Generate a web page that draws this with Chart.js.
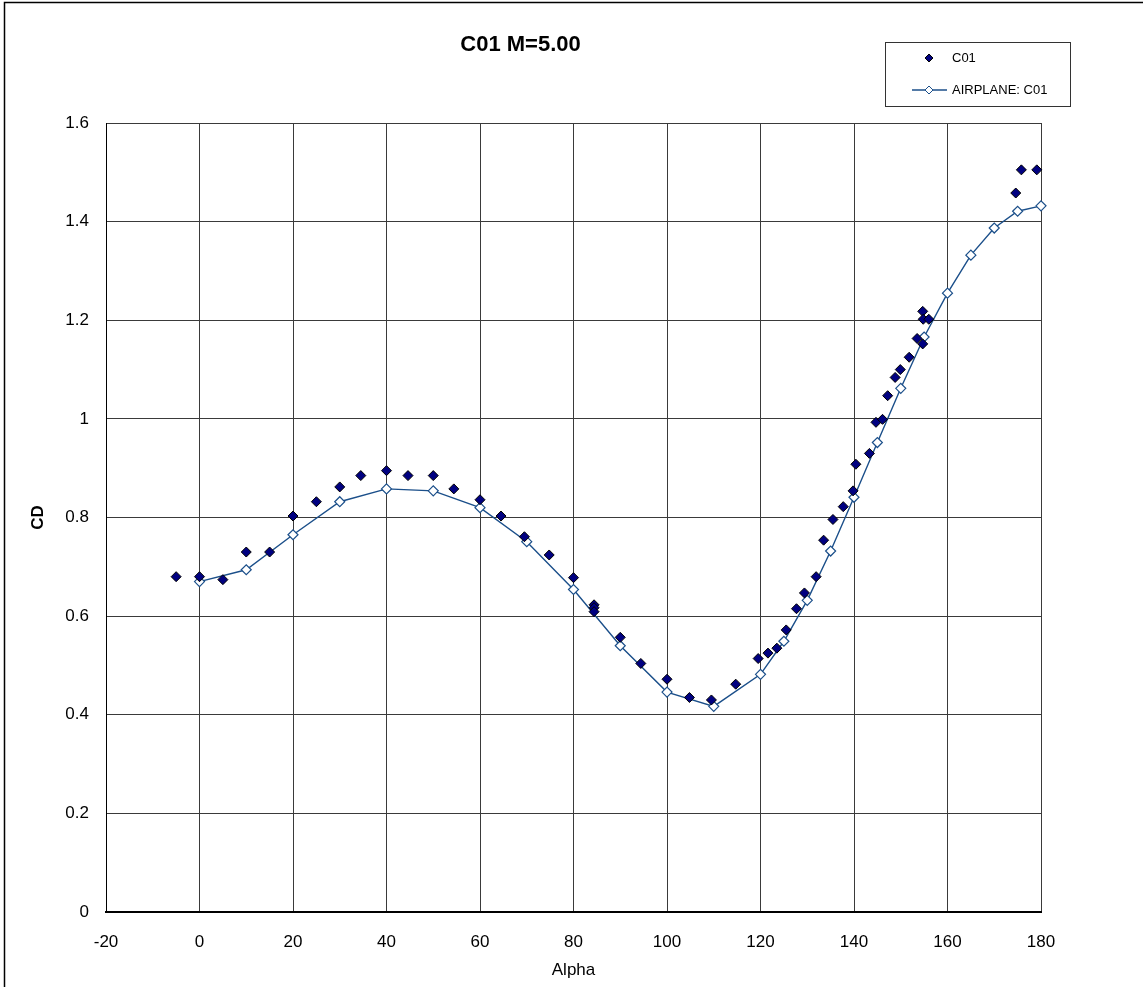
<!DOCTYPE html>
<html>
<head>
<meta charset="utf-8">
<title>C01 M=5.00</title>
<script src="https://cdn.jsdelivr.net/npm/chart.js@4.4.1/dist/chart.umd.min.js"></script>
<style>
  html, body { margin: 0; padding: 0; background: #fff; }
  #wrap { position: absolute; left: 0; top: 0; width: 1143px; height: 987px; }
</style>
</head>
<body>
<div id="wrap"><canvas id="cdChart"></canvas></div>
<script>
// measured C01 points (alpha, CD)
const c01Alpha = [-5, 0, 5, 10, 15, 20, 25, 30, 34.5, 40, 44.6, 50, 54.4, 60, 64.5,
    69.5, 74.8, 80, 84.4, 84.4, 84.4, 90, 94.4, 100, 104.8, 109.5, 114.7, 119.5, 121.6, 123.5,
    125.5, 127.7, 129.4, 131.9, 133.5, 135.5, 137.7, 139.8, 140.4, 143.3, 144.7, 146.1, 147.2, 148.8, 149.9,
    151.8, 153.5, 154.7, 154.7, 154.8, 156.0, 174.6, 175.8, 179.1];
const c01CD = [0.680, 0.680, 0.674, 0.730, 0.730, 0.803, 0.832, 0.862, 0.885, 0.895, 0.885, 0.885, 0.858, 0.836, 0.803,
    0.761, 0.724, 0.678, 0.623, 0.617, 0.609, 0.557, 0.504, 0.472, 0.435, 0.430, 0.462, 0.514, 0.525, 0.535,
    0.572, 0.615, 0.647, 0.680, 0.754, 0.796, 0.822, 0.854, 0.908, 0.930, 0.993, 0.999, 1.047, 1.084, 1.100,
    1.125, 1.163, 1.152, 1.218, 1.202, 1.202, 1.458, 1.505, 1.505];

// AIRPLANE prediction curve
const airAlpha = [0, 10, 20, 30, 40, 50, 60, 70, 80, 90, 100, 110, 120, 125, 130,
    135, 140, 145, 150, 155, 160, 165, 170, 175, 180];
const airCD = [0.670, 0.694, 0.765, 0.832, 0.858, 0.854, 0.820, 0.751, 0.654, 0.540, 0.446, 0.417, 0.482, 0.549, 0.632,
    0.732, 0.841, 0.952, 1.062, 1.166, 1.255, 1.332, 1.387, 1.421, 1.432];

const FONT = "'Liberation Sans', Arial, sans-serif";
const LINE_BLUE = '#1b4f8a';
const MARK_NAVY = '#000080';

const toPoints = (xs, ys) => xs.map((x, i) => ({ x: x, y: ys[i] }));

// frame + legend box, drawn after everything else
const frameAndLegend = {
    id: 'frameAndLegend',
    afterDraw(chart) {
        const c = chart.ctx;
        c.save();
        // outer frame (left + top)
        c.strokeStyle = '#000';
        c.lineWidth = 1.5;
        c.beginPath();
        c.moveTo(4.5, 987);
        c.lineTo(4.5, 2.5);
        c.lineTo(1143, 2.5);
        c.stroke();

        // legend box
        c.lineWidth = 1;
        c.strokeStyle = '#333';
        c.fillStyle = '#fff';
        c.fillRect(885.5, 42.5, 185, 64);
        c.strokeRect(885.5, 42.5, 185, 64);

        const diamond = (x, y, r, fill, stroke) => {
            c.beginPath();
            c.moveTo(x, y - r);
            c.lineTo(x + r, y);
            c.lineTo(x, y + r);
            c.lineTo(x - r, y);
            c.closePath();
            c.fillStyle = fill;
            c.fill();
            c.lineWidth = 1;
            c.strokeStyle = stroke;
            c.stroke();
        };

        diamond(929, 58, 4, MARK_NAVY, '#000');

        c.strokeStyle = LINE_BLUE;
        c.lineWidth = 1.3;
        c.beginPath();
        c.moveTo(912, 90);
        c.lineTo(947, 90);
        c.stroke();
        diamond(929, 90, 4, '#fff', LINE_BLUE);

        c.fillStyle = '#000';
        c.font = '13px ' + FONT;
        c.textBaseline = 'middle';
        c.textAlign = 'left';
        c.fillText('C01', 952, 58);
        c.fillText('AIRPLANE: C01', 952, 90);
        c.restore();
    }
};

const ctx = document.getElementById('cdChart').getContext('2d');

const chart = new Chart(ctx, {
    type: 'scatter',
    data: {
        datasets: [{
            label: 'C01',
            data: toPoints(c01Alpha, c01CD),
            showLine: false,
            pointStyle: 'rectRot',
            pointRadius: 5,
            pointBackgroundColor: MARK_NAVY,
            pointBorderColor: '#000',
            pointBorderWidth: 1,
            clip: false
        }, {
            label: 'AIRPLANE: C01',
            data: toPoints(airAlpha, airCD),
            showLine: true,
            borderColor: LINE_BLUE,
            borderWidth: 1.4,
            tension: 0,
            pointStyle: 'rectRot',
            pointRadius: 5,
            pointBackgroundColor: '#fff',
            pointBorderColor: LINE_BLUE,
            pointBorderWidth: 1.2,
            clip: false
        }]
    },
    options: {
        responsive: true,
        maintainAspectRatio: false,
        animation: false,
        layout: { padding: { left: 0, top: 0, right: 102, bottom: 0 } },
        plugins: {
            legend: { display: false },
            tooltip: { enabled: false },
            title: {
                display: true,
                text: 'C01 M=5.00',
                color: '#000',
                font: { family: FONT, size: 22, weight: 'bold', lineHeight: 1.2 },
                padding: { top: 32, bottom: 64.6 }
            }
        },
        scales: {
            x: {
                type: 'linear',
                min: -20,
                max: 180,
                afterFit: (scale) => { scale.height = 75; },
                ticks: {
                    stepSize: 20,
                    padding: 20,
                    color: '#000',
                    font: { family: FONT, size: 17 }
                },
                grid: { color: '#3a3a3a', lineWidth: 1, drawTicks: false },
                border: { color: '#000', width: 2 },
                title: {
                    display: true,
                    text: 'Alpha',
                    color: '#000',
                    font: { family: FONT, size: 17 },
                    padding: { top: 0, bottom: 6 }
                }
            },
            y: {
                type: 'linear',
                min: 0,
                max: 1.6,
                afterFit: (scale) => { scale.width = 106; },
                ticks: {
                    stepSize: 0.2,
                    padding: 17,
                    color: '#000',
                    font: { family: FONT, size: 17 },
                    callback: (v) => String(Number(v.toFixed(1)))
                },
                grid: { color: '#3a3a3a', lineWidth: 1, drawTicks: false },
                border: { color: '#000', width: 1 },
                title: {
                    display: true,
                    text: 'CD',
                    color: '#000',
                    font: { family: FONT, size: 17, weight: 'bold' },
                    padding: { top: 28, bottom: 0 }
                }
            }
        }
    },
    plugins: [frameAndLegend]
});
</script>
</body>
</html>
